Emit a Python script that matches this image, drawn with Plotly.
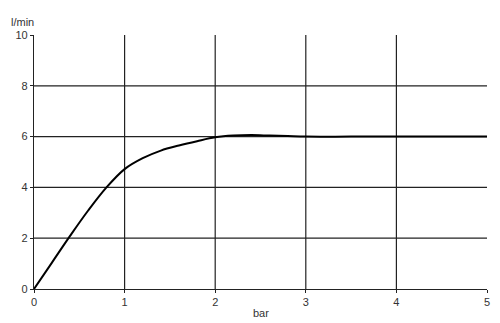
import plotly.graph_objects as go

pressure_bar = [0, 0.2, 0.4, 0.6, 0.8, 1.0, 1.2, 1.4, 1.6, 1.8, 2.0, 2.2, 2.4, 2.6, 2.8, 3.0, 3.5, 4.0, 4.5, 5.0]
flow_lmin = [0, 1.05, 2.1, 3.1, 4.0, 4.72, 5.15, 5.45, 5.65, 5.82, 5.97, 6.04, 6.06, 6.04, 6.02, 6.0, 6.0, 6.0, 6.0, 6.0]
x_ticks = [0, 1, 2, 3, 4, 5]
y_ticks = [0, 2, 4, 6, 8, 10]
x_title = "bar"
y_title = "l/min"

fig = go.Figure()
fig.add_trace(go.Scatter(x=pressure_bar, y=flow_lmin, mode="lines",
                         line=dict(color="black", width=2, shape="spline", smoothing=1),
                         hoverinfo="skip", showlegend=False))

shapes = []
for xv in x_ticks[1:-1]:
    shapes.append(dict(type="line", xref="x", yref="y", x0=xv, x1=xv, y0=y_ticks[0], y1=y_ticks[-1],
                       line=dict(color="#222", width=1.2), layer="below"))
for yv in y_ticks[1:-1]:
    shapes.append(dict(type="line", xref="x", yref="y", x0=x_ticks[0], x1=x_ticks[-1], y0=yv, y1=yv,
                       line=dict(color="#222", width=1.2), layer="below"))

font = dict(family="Liberation Sans, Arial, sans-serif", size=11, color="#333")
axis_common = dict(showgrid=False, zeroline=False, showline=True, linecolor="#222", linewidth=1.2,
                   ticks="outside", ticklen=3, tickcolor="#222", tickwidth=1.2, tickfont=font)

fig.update_layout(
    width=500, height=323,
    margin=dict(l=34, r=10, t=35, b=34),
    paper_bgcolor="white", plot_bgcolor="white",
    shapes=shapes,
    xaxis=dict(range=[0, 5], tickvals=x_ticks, **axis_common),
    yaxis=dict(range=[0, 10], tickvals=y_ticks, **axis_common),
    annotations=[
        dict(text=y_title, xref="paper", yref="paper", x=-0.026, y=1.02, xanchor="center", yanchor="bottom",
             showarrow=False, font=font),
        dict(text=x_title, xref="paper", yref="paper", x=0.5, y=-0.063, xanchor="center", yanchor="top",
             showarrow=False, font=font),
    ],
)

fig.write_html("out.html")
